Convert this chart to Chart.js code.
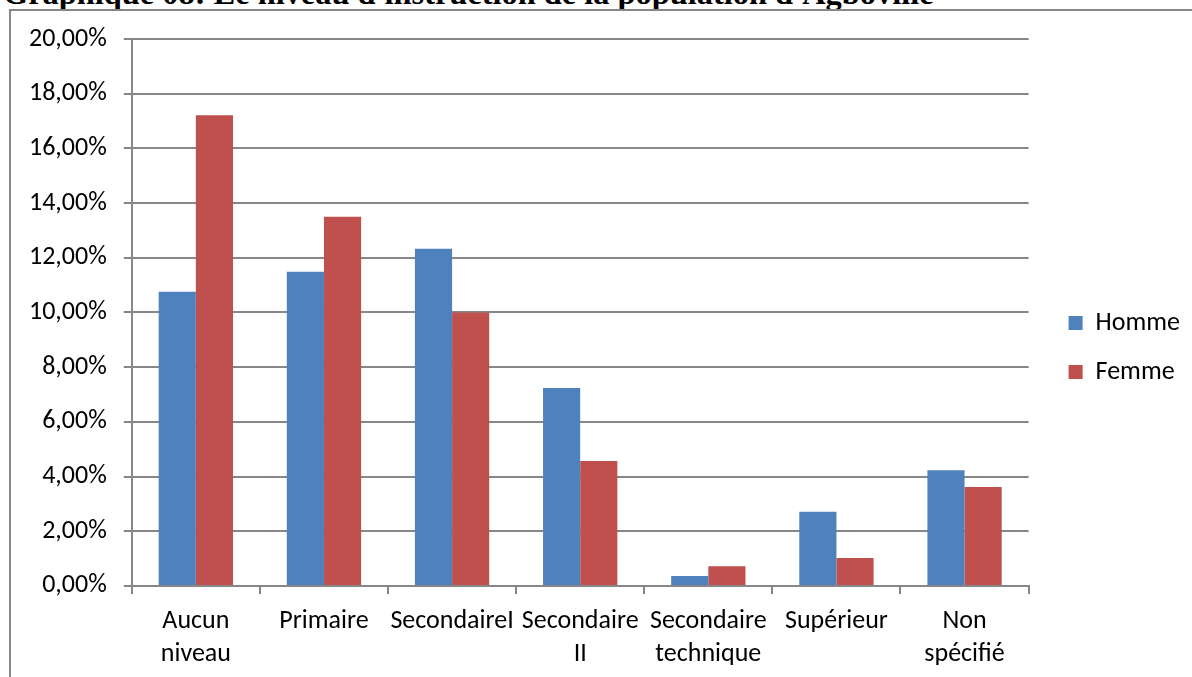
<!DOCTYPE html>
<html>
<head>
<meta charset="utf-8">
<script src="https://cdn.jsdelivr.net/npm/chart.js@4"></script>
<style>
    body { margin: 0; background: #fff; width: 1192px; height: 677px; overflow: hidden; position: relative; }
    #title { position: absolute; left: 3px; top: -23px; line-height: 32px; font-family: 'Liberation Serif', serif; font-weight: bold; font-size: 32.4px; white-space: nowrap; color: #000; }
    #frame { position: absolute; left: 9px; top: 9px; width: 1400px; height: 900px; border: 2px solid #878787; }
    #wrap { position: absolute; left: 0; top: 0; width: 1192px; height: 677px; }
</style>
</head>
<body>
<div id="title">Graphique 08: Le niveau d'instruction de la population d'Agboville</div>
<div id="frame"></div>
<div id="wrap"><canvas id="chart"></canvas></div>
<script>
// Catégories et valeurs (en %)
const categories = [['Aucun', 'niveau'], 'Primaire', 'SecondaireI', ['Secondaire', 'II'], ['Secondaire', 'technique'], 'Supérieur', ['Non', 'spécifié']];
const homme = [10.76, 11.49, 12.33, 7.24, 0.36, 2.71, 4.23];
const femme = [17.21, 13.50, 10.00, 4.57, 0.72, 1.02, 3.62];
const yTicks = [0, 2, 4, 6, 8, 10, 12, 14, 16, 18, 20];

const fontFamily = 'Carlito, Calibri, Lato, "Open Sans", sans-serif';
const gridColor = '#878787';
const legendShiftX = 17;
const legendShiftY = -13;

function formatPct(v) {
    return v.toFixed(2).replace('.', ',') + '%';
}

// décale la légende sans toucher à la zone du graphique
const legendOffset = {
    id: 'legendOffset',
    afterLayout(chart) {
        chart.legend.left += legendShiftX;
        chart.legend.right += legendShiftX;
        chart.legend.top += legendShiftY;
        chart.legend.bottom += legendShiftY;
    }
};

new Chart(document.getElementById('chart'), {
    type: 'bar',
    data: {
        labels: categories,
        datasets: [{
            label: 'Homme',
            data: homme,
            backgroundColor: '#4F81BD',
            barPercentage: 1,
            categoryPercentage: 0.58
        }, {
            label: 'Femme',
            data: femme,
            backgroundColor: '#C0504D',
            barPercentage: 1,
            categoryPercentage: 0.58
        }]
    },
    options: {
        responsive: true,
        maintainAspectRatio: false,
        animation: false,
        layout: {
            padding: { top: 39, left: 12, right: 19, bottom: -5 }
        },
        plugins: {
            tooltip: { enabled: false },
            legend: {
                position: 'right',
                labels: {
                    boxWidth: 14,
                    boxHeight: 14,
                    padding: 23,
                    color: '#000',
                    font: { family: fontFamily, size: 26 }
                }
            }
        },
        scales: {
            y: {
                min: 0,
                max: 20,
                afterBuildTicks: function (axis) {
                    axis.ticks = yTicks.map(v => ({ value: v }));
                },
                border: { color: gridColor, width: 2 },
                grid: { color: gridColor, lineWidth: 2, tickLength: 8 },
                ticks: {
                    color: '#000',
                    padding: 17,
                    font: { family: fontFamily, size: 26 },
                    callback: function (value) {
                        return formatPct(value);
                    }
                }
            },
            x: {
                border: { color: gridColor, width: 2 },
                grid: { drawOnChartArea: false, color: gridColor, lineWidth: 2, tickLength: 8 },
                ticks: {
                    color: '#000',
                    padding: 11,
                    maxRotation: 0,
                    font: { family: fontFamily, size: 26, lineHeight: 1.27 }
                }
            }
        }
    },
    plugins: [legendOffset]
});
</script>
</body>
</html>
